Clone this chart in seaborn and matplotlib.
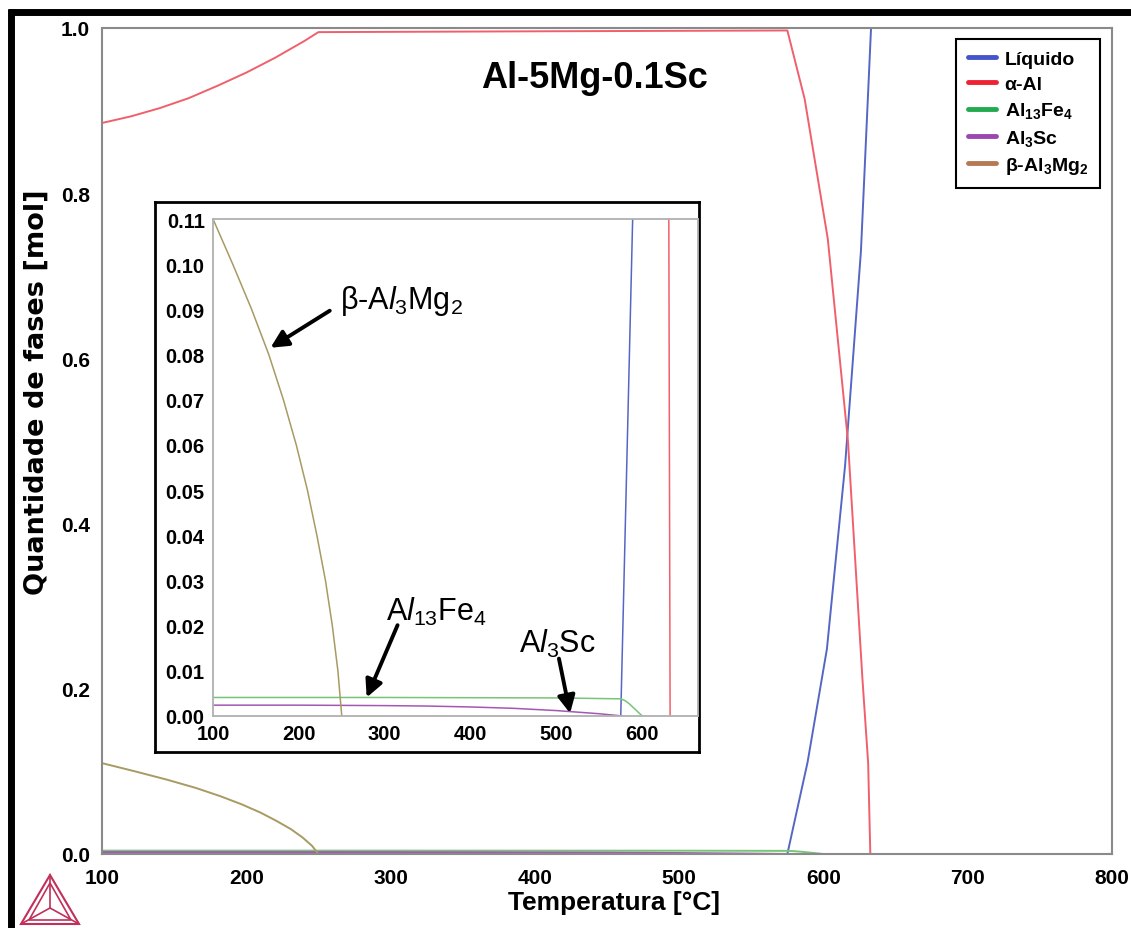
import numpy as np
import pandas as pd
import matplotlib
matplotlib.use("Agg")
import matplotlib.pyplot as plt
from matplotlib.lines import Line2D
from matplotlib.patches import Polygon
import seaborn as sns

# ---------------- data ----------------
liq_T = [575.0, 589.0, 602.4, 615.0, 626.0, 633.0]
liq_v = [0.0, 0.111, 0.248, 0.47, 0.73, 1.0]

alpha_T = [100, 120, 140, 160, 180, 200, 220, 240, 250, 400, 575, 587, 603, 617, 627, 631, 632.5]
alpha_v = [0.885, 0.893, 0.903, 0.915, 0.930, 0.946, 0.964, 0.984, 0.995, 0.996, 0.997, 0.914, 0.745, 0.50, 0.213, 0.11, 0.0]

fe_T = [100, 300, 500, 575, 580, 585, 590, 595, 600]
fe_v = [0.0041, 0.0041, 0.0040, 0.0038, 0.0034, 0.0027, 0.0018, 0.0009, 0.0]

sc_T = [100, 200, 300, 350, 400, 450, 500, 550, 577]
sc_v = [0.0024, 0.0024, 0.0023, 0.0022, 0.0020, 0.0017, 0.0012, 0.0005, 0.0]

beta_T = [100, 123, 145, 165, 182, 197, 210, 221, 231, 239, 245.5, 250]
beta_v = [0.11, 0.10, 0.09, 0.08, 0.07, 0.06, 0.05, 0.04, 0.03, 0.02, 0.01, 0.0]

legend_labels = ["Líquido", "α-Al", r"$\mathbf{Al_{13}Fe_{4}}$", r"$\mathbf{Al_{3}Sc}$", r"β-$\mathbf{Al_{3}Mg_{2}}$"]
legend_colors = ["#4455cc", "#ee2233", "#22aa4f", "#9a48b0", "#b57a55"]
line_colors = ["#5566c4", "#f0606c", "#78c478", "#a458b4", "#a89a62"]

main_xticks = [100, 200, 300, 400, 500, 600, 700, 800]
main_yticks = [0.0, 0.2, 0.4, 0.6, 0.8, 1.0]
inset_yticks = [0.00, 0.01, 0.02, 0.03, 0.04, 0.05, 0.06, 0.07, 0.08, 0.09, 0.10, 0.11]
inset_xticks = [100, 200, 300, 400, 500, 600]

title_text = "Al-5Mg-0.1Sc"
xlabel_text = "Temperatura [°C]"
ylabel_text = "Quantidade de fases [mol]"

series = [
    ("Líquido", liq_T, liq_v),
    ("α-Al", alpha_T, alpha_v),
    ("Al13Fe4", fe_T, fe_v),
    ("Al3Sc", sc_T, sc_v),
    ("β-Al3Mg2", beta_T, beta_v),
]

# ---------------- style ----------------
sns.set_theme(style="white")
plt.rcParams["font.family"] = ["Liberation Sans", "DejaVu Sans"]
plt.rcParams["mathtext.fontset"] = "custom"
plt.rcParams["mathtext.rm"] = "Liberation Sans"
plt.rcParams["mathtext.it"] = "Liberation Sans:italic"
plt.rcParams["mathtext.bf"] = "Liberation Sans:bold"
plt.rcParams["text.color"] = "black"
plt.rcParams["axes.labelcolor"] = "black"
plt.rcParams["xtick.labelcolor"] = "black"
plt.rcParams["ytick.labelcolor"] = "black"

W, H = 1131, 929
fig = plt.figure(figsize=(W / 100, H / 100), dpi=100)
fig.patch.set_facecolor("white")

def fx(px):
    return px / W

def fy(py):
    return 1 - py / H

spine_gray = "#8a8a8a"

# ---------------- main axes ----------------
ax = fig.add_axes([fx(102), fy(855), fx(1112) - fx(102), fy(29) - fy(855)])
for (name, T, v), c in zip(series, line_colors):
    df = pd.DataFrame({"T": T, "v": v})
    sns.lineplot(data=df, x="T", y="v", ax=ax, color=c, lw=1.4, sort=False, estimator=None)
ax.set_xlim(100, 800)
ax.set_ylim(0, 1.0)
ax.set_xticks(main_xticks)
ax.set_yticks(main_yticks)
ax.set_yticks(np.arange(0.1, 1.0, 0.2), minor=True)
ax.set_xticklabels([str(t) for t in main_xticks])
ax.set_yticklabels([f"{t:.1f}" for t in main_yticks])
ax.tick_params(axis="both", which="both", direction="out", color=spine_gray, width=1.2)
ax.tick_params(axis="both", which="major", length=5, labelsize=15)
ax.tick_params(axis="y", which="minor", length=4)
ax.tick_params(axis="x", which="major", pad=5)
for lab in ax.get_xticklabels() + ax.get_yticklabels():
    lab.set_fontweight("bold")
for s in ax.spines.values():
    s.set_color(spine_gray)
    s.set_linewidth(1.5)
ax.set_xlabel(xlabel_text, fontsize=19, fontweight="bold")
ax.xaxis.set_label_coords(0.507, -0.0435)
ax.set_ylabel(ylabel_text, fontsize=19.5, fontweight="bold", family="DejaVu Sans")
ax.yaxis.set_label_coords(-0.0515, 0.56)
ax.text(0.488, 0.94, title_text, transform=ax.transAxes, ha="center", va="center",
        fontsize=26, fontweight="bold")

handles = [Line2D([0], [0], color=c, lw=3.5) for c in legend_colors]
leg = ax.legend(handles, legend_labels, loc="upper right", bbox_to_anchor=(0.988, 0.987),
                borderaxespad=0, frameon=True, fancybox=False, edgecolor="black", framealpha=1,
                prop={"weight": "bold", "size": 14}, handlelength=1.45, handletextpad=0.45,
                labelspacing=0.38, borderpad=0.6)
leg.get_frame().set_linewidth(1.5)

# ---------------- inset frame ----------------
frame = fig.add_axes([fx(155), fy(753), fx(699) - fx(155), fy(203) - fy(753)])
frame.set_xticks([])
frame.set_yticks([])
frame.set_facecolor("white")
for s in frame.spines.values():
    s.set_color("black")
    s.set_linewidth(2)
frame.set_zorder(5)

# ---------------- inset axes ----------------
ai = fig.add_axes([fx(213), fy(717), fx(698) - fx(213), fy(220) - fy(717)])
ai.set_zorder(6)
ai.set_facecolor("white")
for (name, T, v), c in zip(series, line_colors):
    df = pd.DataFrame({"T": T, "v": v})
    sns.lineplot(data=df, x="T", y="v", ax=ai, color=c, lw=1.1, sort=False, estimator=None)
ai.set_xlim(100, 665)
ai.set_ylim(0, 0.11)
ai.set_xticks(inset_xticks)
ai.set_xticks(np.arange(150, 665, 100), minor=True)
ai.set_yticks(inset_yticks)
ai.set_xticklabels([str(t) for t in inset_xticks])
ai.set_yticklabels([f"{t:.2f}" for t in inset_yticks])
ai.tick_params(axis="both", which="both", direction="out", color=spine_gray, width=1.0)
ai.tick_params(axis="both", which="major", length=4, labelsize=14.5, pad=2)
ai.tick_params(axis="x", which="minor", length=3)
for lab in ai.get_xticklabels() + ai.get_yticklabels():
    lab.set_fontweight("bold")
for s in ai.spines.values():
    s.set_color("#b0b0b0")
    s.set_linewidth(1.3)
ai.set_xlabel("")
ai.set_ylabel("")

ann_kw = dict(fontsize=22)
arrow = dict(arrowstyle="-|>", color="black", lw=2.8, mutation_scale=26, shrinkA=0, shrinkB=0)
ai.text(248, 0.092, r"β-A$\mathit{l}_3$Mg$_2$", ha="left", va="center", **ann_kw)
ai.annotate("", xy=(167, 0.0815), xytext=(236, 0.0897), arrowprops=arrow)
ai.text(302, 0.0232, r"A$\mathit{l}_{13}$Fe$_4$", ha="left", va="center", **ann_kw)
ai.annotate("", xy=(279, 0.0041), xytext=(315, 0.0201), arrowprops=arrow)
ai.text(457, 0.0162, r"A$\mathit{l}_3$Sc", ha="left", va="center", **ann_kw)
ai.annotate("", xy=(516, 0.0006), xytext=(503, 0.0127), arrowprops=arrow)

# ---------------- page border (thick black top and left) ----------------
fig.add_artist(Line2D([fx(8), 1.0], [fy(13), fy(13)], color="black", lw=5, solid_capstyle="butt"))
fig.add_artist(Line2D([fx(11), fx(11)], [fy(10), 0.0], color="black", lw=5, solid_capstyle="butt"))

# ---------------- logo (decorative triangle) ----------------
crimson = "#c0305a"
A = (fx(21), fy(925)); B = (fx(79), fy(925)); C = (fx(50), fy(876)); O = (fx(50), fy(909))
fig.add_artist(Polygon([A, B, C], closed=True, fill=False, edgecolor=crimson, lw=1.5))
a2 = (fx(29), fy(921)); b2 = (fx(71), fy(921)); c2 = (fx(50), fy(884))
fig.add_artist(Polygon([a2, b2, c2], closed=True, fill=False, edgecolor=crimson, lw=1.2))
for p in (A, B, C):
    fig.add_artist(Line2D([p[0], O[0]], [p[1], O[1]], color=crimson, lw=1.2))

fig.savefig("out.png", dpi=100, facecolor="white")
